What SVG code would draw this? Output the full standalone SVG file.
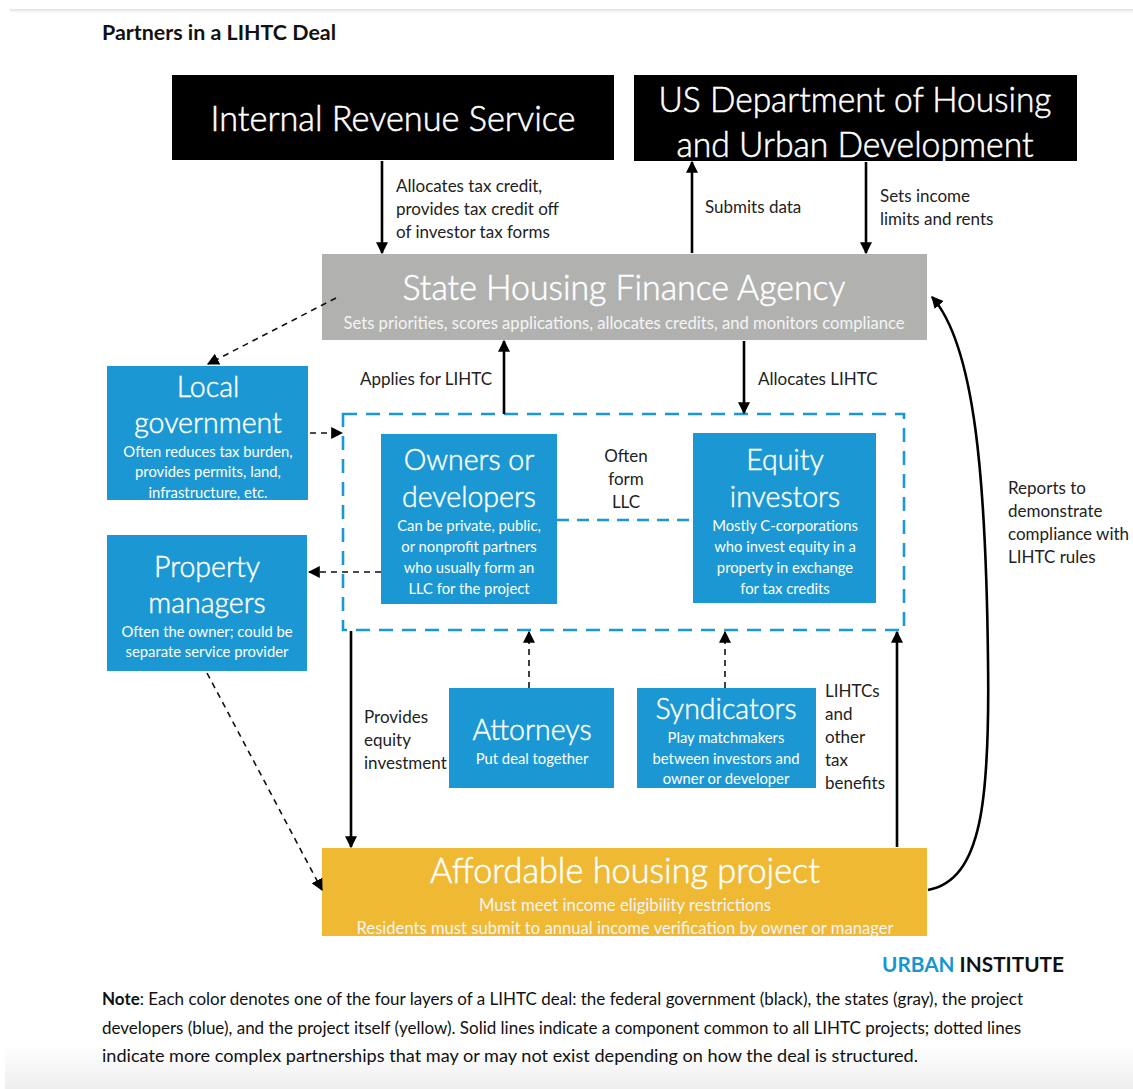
<svg xmlns="http://www.w3.org/2000/svg" width="1133" height="1089" viewBox="0 0 1133 1089">
  <defs>
    <style>
      text { font-family: Lato, "Open Sans", "Liberation Sans", sans-serif; }
      .lbl { font-size: 17px; fill: #222; }
      .big { font-size: 36px; fill: #fff; text-anchor: middle; font-weight: 300; stroke: #fff; stroke-width: 0.55; }
      .hd { font-size: 28.5px; fill: #fff; text-anchor: middle; font-weight: 300; stroke: #fff; stroke-width: 0.45; }
      .sub { font-size: 14.8px; fill: #fff; text-anchor: middle; }
      .sub2 { font-size: 17px; fill: #f4f4f4; text-anchor: middle; }
      .solid { stroke: #000; stroke-width: 2.6; fill: none; }
      .dash { stroke: #111; stroke-width: 1.6; fill: none; stroke-dasharray: 6 5; }
      .blue { fill: #1b98d3; }
    </style>
    <marker id="ah" viewBox="0 0 10 10" refX="9" refY="5" markerWidth="12" markerHeight="12" markerUnits="userSpaceOnUse" orient="auto">
      <path d="M0,0 L10,5 L0,10 z" fill="#000"/>
    </marker>
    <linearGradient id="foot" x1="0" y1="0" x2="0" y2="1">
      <stop offset="0" stop-color="#ffffff"/>
      <stop offset="1" stop-color="#eeeeee"/>
    </linearGradient>
    <linearGradient id="topshade" x1="0" y1="0" x2="0" y2="1">
      <stop offset="0" stop-color="#e2e2e2"/>
      <stop offset="1" stop-color="#ffffff"/>
    </linearGradient>
  </defs>

  <rect width="1133" height="1089" fill="#fff"/>
  <!-- page chrome -->
  <rect x="10" y="9" width="1123" height="4" fill="url(#topshade)"/>
  <rect x="5" y="1045" width="1128" height="44" fill="url(#foot)"/>

  <text x="102" y="40" style="font-size:21px;font-weight:bold;fill:#111" textLength="234" lengthAdjust="spacingAndGlyphs">Partners in a LIHTC Deal</text>

  <!-- federal layer -->
  <g id="irs">
    <rect x="172" y="75" width="442" height="85" fill="#000"/>
    <text class="big" x="393" y="131" textLength="365" lengthAdjust="spacingAndGlyphs">Internal Revenue Service</text>
  </g>
  <g id="hud">
    <rect x="634" y="75" width="443" height="86" fill="#000"/>
    <text class="big" x="855" y="112" textLength="393" lengthAdjust="spacingAndGlyphs">US Department of Housing</text>
    <text class="big" x="855" y="157" textLength="357" lengthAdjust="spacingAndGlyphs">and Urban Development</text>
  </g>

  <!-- state layer -->
  <g id="state-hfa">
    <rect x="322" y="254" width="605" height="86" fill="#b1b2b0"/>
    <text class="big" x="624" y="300" textLength="443" lengthAdjust="spacingAndGlyphs">State Housing Finance Agency</text>
    <text class="sub2" x="624" y="329" textLength="561" lengthAdjust="spacingAndGlyphs">Sets priorities, scores applications, allocates credits, and monitors compliance</text>
  </g>

  <!-- developer layer -->
  <g id="local-government">
    <rect class="blue" x="107" y="366" width="201" height="134"/>
    <text class="hd" x="208" y="397">Local</text>
    <text class="hd" x="208" y="433">government</text>
    <text class="sub" x="208" y="457">Often reduces tax burden,</text>
    <text class="sub" x="208" y="477">provides permits, land,</text>
    <text class="sub" x="208" y="498">infrastructure, etc.</text>
  </g>

  <g id="property-managers">
    <rect class="blue" x="107" y="535" width="200" height="136"/>
    <text class="hd" x="207" y="577">Property</text>
    <text class="hd" x="207" y="613">managers</text>
    <text class="sub" x="207" y="637">Often the owner; could be</text>
    <text class="sub" x="207" y="657">separate service provider</text>
  </g>

  <g id="partnership">
    <rect x="343" y="414" width="561" height="216" fill="none" stroke="#1b98d3" stroke-width="2.6" stroke-dasharray="14 9"/>
  </g>

  <g id="owners-developers">
    <rect class="blue" x="381" y="434" width="176" height="170"/>
    <text class="hd" x="469" y="470">Owners or</text>
    <text class="hd" x="469" y="507">developers</text>
    <text class="sub" x="469" y="531">Can be private, public,</text>
    <text class="sub" x="469" y="552">or nonprofit partners</text>
    <text class="sub" x="469" y="573">who usually form an</text>
    <text class="sub" x="469" y="594">LLC for the project</text>
  </g>

  <g id="equity-investors">
    <rect class="blue" x="693" y="433" width="183" height="170"/>
    <text class="hd" x="785" y="470">Equity</text>
    <text class="hd" x="785" y="507">investors</text>
    <text class="sub" x="785" y="531">Mostly C-corporations</text>
    <text class="sub" x="785" y="552">who invest equity in a</text>
    <text class="sub" x="785" y="573">property in exchange</text>
    <text class="sub" x="785" y="594">for tax credits</text>
  </g>

  <g id="attorneys">
    <rect class="blue" x="449" y="688" width="165" height="100"/>
    <text class="hd" x="532" y="740">Attorneys</text>
    <text class="sub" x="532" y="764">Put deal together</text>
  </g>

  <g id="syndicators">
    <rect class="blue" x="637" y="688" width="179" height="100"/>
    <text class="hd" x="726" y="719">Syndicators</text>
    <text class="sub" x="726" y="743">Play matchmakers</text>
    <text class="sub" x="726" y="764">between investors and</text>
    <text class="sub" x="726" y="784">owner or developer</text>
  </g>

  <!-- project layer -->
  <g id="affordable-housing">
    <rect x="322" y="848" width="605" height="88" fill="#efb934"/>
    <text class="big" x="625" y="883" textLength="390" lengthAdjust="spacingAndGlyphs">Affordable housing project</text>
    <text class="sub2" x="625" y="911" textLength="292" lengthAdjust="spacingAndGlyphs">Must meet income eligibility restrictions</text>
    <text class="sub2" x="625" y="934" textLength="537" lengthAdjust="spacingAndGlyphs">Residents must submit to annual income verification by owner or manager</text>
  </g>

  <!-- connectors -->
  <g id="connectors">
    <line class="solid" x1="382" y1="161" x2="382" y2="253" marker-end="url(#ah)"/>
    <line class="solid" x1="692" y1="253" x2="692" y2="162" marker-end="url(#ah)"/>
    <line class="solid" x1="866" y1="162" x2="866" y2="253" marker-end="url(#ah)"/>
    <line class="solid" x1="504" y1="414" x2="504" y2="341" marker-end="url(#ah)"/>
    <line class="solid" x1="744" y1="341" x2="744" y2="413" marker-end="url(#ah)"/>
    <line class="solid" x1="351" y1="631" x2="351" y2="847" marker-end="url(#ah)"/>
    <line class="solid" x1="897" y1="847" x2="897" y2="632" marker-end="url(#ah)"/>
    <path class="solid" d="M928,890 C982,880 990,800 988,660 C986,480 975,345 932,297" marker-end="url(#ah)"/>

    <line class="dash" x1="336" y1="298" x2="208" y2="364" marker-end="url(#ah)"/>
    <line class="dash" x1="310" y1="433" x2="342" y2="433" marker-end="url(#ah)"/>
    <line class="dash" x1="381" y1="572" x2="309" y2="572" marker-end="url(#ah)"/>
    <line class="dash" x1="207" y1="673" x2="322" y2="890" marker-end="url(#ah)"/>
    <line class="dash" x1="529" y1="688" x2="529" y2="632" marker-end="url(#ah)"/>
    <line class="dash" x1="725" y1="688" x2="725" y2="632" marker-end="url(#ah)"/>
    <line x1="557" y1="520" x2="693" y2="520" stroke="#1b98d3" stroke-width="2.6" stroke-dasharray="12 8"/>
  </g>

  <!-- connector labels -->
  <g id="labels">
    <text class="lbl" x="396" y="192">Allocates tax credit,</text>
    <text class="lbl" x="396" y="215">provides tax credit off</text>
    <text class="lbl" x="396" y="238">of investor tax forms</text>
    <text class="lbl" x="705" y="213">Submits data</text>
    <text class="lbl" x="880" y="202">Sets income</text>
    <text class="lbl" x="880" y="225">limits and rents</text>
    <text class="lbl" x="360" y="385">Applies for LIHTC</text>
    <text class="lbl" x="758" y="385">Allocates LIHTC</text>
    <text class="lbl" x="626" y="462" text-anchor="middle">Often</text>
    <text class="lbl" x="626" y="485" text-anchor="middle">form</text>
    <text class="lbl" x="626" y="508" text-anchor="middle">LLC</text>
    <text class="lbl" x="364" y="723">Provides</text>
    <text class="lbl" x="364" y="746">equity</text>
    <text class="lbl" x="364" y="769">investment</text>
    <text class="lbl" x="825" y="697">LIHTCs</text>
    <text class="lbl" x="825" y="720">and</text>
    <text class="lbl" x="825" y="743">other</text>
    <text class="lbl" x="825" y="766">tax</text>
    <text class="lbl" x="825" y="789">benefits</text>
    <text class="lbl" x="1008" y="494">Reports to</text>
    <text class="lbl" x="1008" y="517">demonstrate</text>
    <text class="lbl" x="1008" y="540">compliance with</text>
    <text class="lbl" x="1008" y="563">LIHTC rules</text>
  </g>

  <text x="882" y="972" style="font-size:21px;font-weight:bold" textLength="182" lengthAdjust="spacingAndGlyphs"><tspan fill="#1696d2">URBAN</tspan><tspan fill="#111"> INSTITUTE</tspan></text>

  <g id="note" style="font-size:16.5px;fill:#111">
    <text x="102" y="1005" textLength="921" lengthAdjust="spacingAndGlyphs"><tspan font-weight="bold">Note</tspan>: Each color denotes one of the four layers of a LIHTC deal: the federal government (black), the states (gray), the project</text>
    <text x="102" y="1034" textLength="919" lengthAdjust="spacingAndGlyphs">developers (blue), and the project itself (yellow). Solid lines indicate a component common to all LIHTC projects; dotted lines</text>
    <text x="102" y="1062" textLength="816" lengthAdjust="spacingAndGlyphs">indicate more complex partnerships that may or may not exist depending on how the deal is structured.</text>
  </g>
</svg>
